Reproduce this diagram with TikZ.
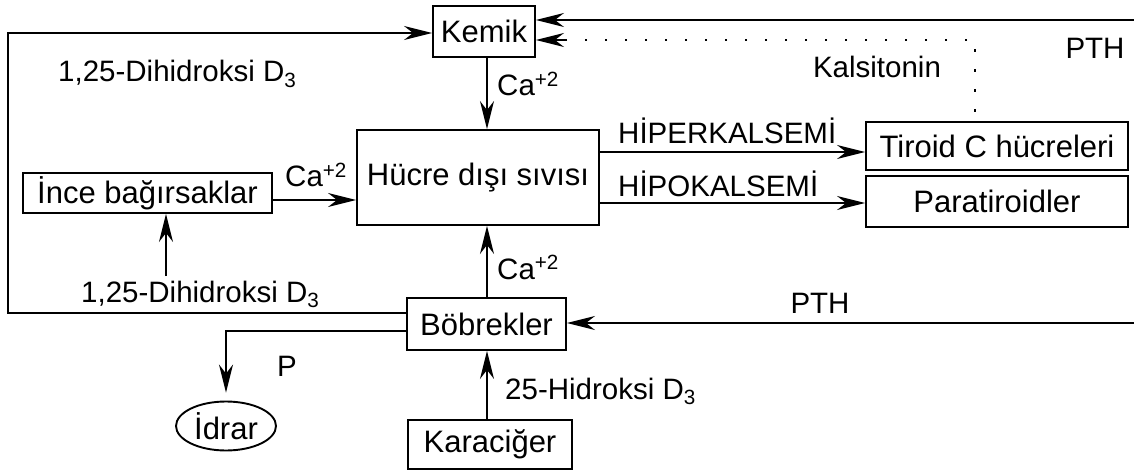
\documentclass[tikz,border=0pt]{standalone}
\usepackage{fontspec}
\setmainfont{Liberation Sans}
\usetikzlibrary{arrows.meta,calc,shapes.geometric}
\begin{document}
\begin{tikzpicture}[x=1pt,y=-1pt,
  every node/.style={font=\fontsize{31}{35}\selectfont},
  box/.style={draw,line width=1.9pt,inner sep=0pt,anchor=center},
  conn/.style={line width=1.9pt,-{Stealth[length=28pt,width=14pt,inset=9pt]}},
  dotline/.style={line width=2.2pt,dash pattern=on 2.5pt off 17.5pt},
  lbl/.style={inner sep=0pt,font=\fontsize{29.5}{34}\selectfont}]
\useasboundingbox (0,0) rectangle (1134,470);
% boxes
\node[box,minimum width=102pt,minimum height=51pt] (kemik) at (484,31.5) {Kemik};
\node[box,minimum width=242pt,minimum height=95pt] (hds) at (478,177.5) {Hücre dışı sıvısı};
\node[box,minimum width=249pt,minimum height=40pt] (ince) at (147.5,193) {İnce bağırsaklar};
\node[box,minimum width=159pt,minimum height=52pt] (bob) at (486.5,324) {Böbrekler};
\node[box,minimum width=164pt,minimum height=49pt] (kar) at (490,444.5) {Karaciğer};
\node[box,minimum width=262pt,minimum height=48pt] (tir) at (997,146) {Tiroid C hücreleri};
\node[box,minimum width=262pt,minimum height=51pt] (para) at (997,201.5) {Paratiroidler};
\node[draw,ellipse,line width=1.9pt,minimum width=100pt,minimum height=49pt,inner sep=0pt] (idrar) at (226,426) {İdrar};
% helper coordinates
\coordinate (xl) at (487,0);
\coordinate (tl) at (8,33);
\coordinate (bl) at (8,313);
\coordinate (pc) at (226,331);
\coordinate (rt1) at (1134,20);
\coordinate (dt) at (975,112);
\coordinate (dc) at (975,40);
\coordinate (dtip) at (566,40);
\coordinate (rb) at (1134,323);
\coordinate (ds) at (166,276);
\coordinate (iy) at (0,200);
\coordinate (hy1) at (0,152);
\coordinate (hy2) at (0,203);
% connectors
\draw[conn] (bob.west |- bl) -- (bl) -- (tl) -- (kemik.west |- tl);
\draw[conn,shorten >=8pt] (bob.west |- pc) -- (pc) -- (idrar.north);
\draw[conn] (rt1) -- (kemik.east |- rt1);
\draw[dotline] (dt) -- (dc) -- (dtip);
\draw[conn] (dtip) -- (kemik.east |- dc);
\draw[conn] (kemik.south -| xl) -- (hds.north -| xl);
\draw[conn] (bob.north -| xl) -- (hds.south -| xl);
\draw[conn] (kar.north -| xl) -- (bob.south -| xl);
\draw[conn] (rb) -- (bob.east |- rb);
\draw[conn] (ince.east |- iy) -- (hds.west |- iy);
\draw[conn] (ds) -- (ince.south -| ds);
\draw[conn] (hds.east |- hy1) -- (tir.west |- hy1);
\draw[conn] (hds.east |- hy2) -- (para.west |- hy2);
% labels
\node[lbl,anchor=base west] (l125a) at (58,82) {1,25-Dihidroksi D\textsubscript{3}};
\node[lbl,anchor=base west] (l125b) at (81,302) {1,25-Dihidroksi D\textsubscript{3}};
\node[lbl,anchor=base west] (ca1) at (497,96) {Ca\textsuperscript{+2}};
\node[lbl,anchor=base west] (ca2) at (285,187) {Ca\textsuperscript{+2}};
\node[lbl,anchor=base west] (ca3) at (497,279) {Ca\textsuperscript{+2}};
\node[lbl,anchor=base west] (p) at (277,376) {P};
\node[lbl,anchor=base west] (h25) at (505,399) {25-Hidroksi D\textsubscript{3}};
\node[lbl,anchor=base] (pth2) at (820,313) {PTH};
\node[lbl,anchor=base] (pth1) at (1095,59) {PTH};
\node[lbl,anchor=base] (kal) at (877,78) {Kalsitonin};
\node[lbl,anchor=base west] (hiper) at (618,144) {HİPERKALSEMİ};
\node[lbl,anchor=base west] (hipo) at (618,197) {HİPOKALSEMİ};
\end{tikzpicture}
\end{document}
